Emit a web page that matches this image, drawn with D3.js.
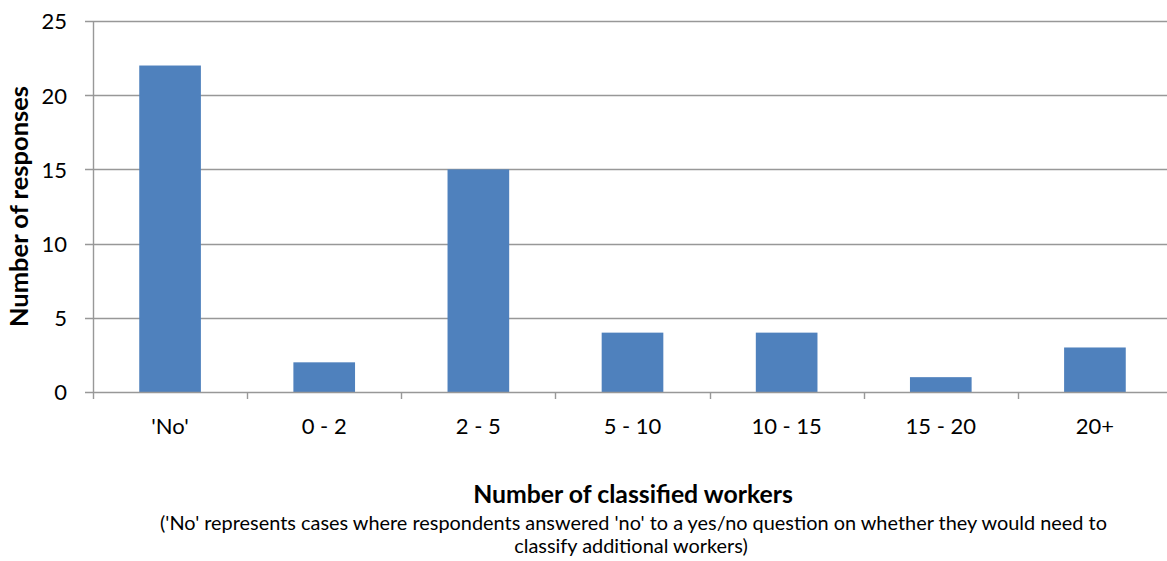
<!DOCTYPE html>
<html><head><meta charset="utf-8">
<script src="https://cdn.jsdelivr.net/npm/d3@7"></script>
<style>body{margin:0;background:#fff}svg{display:block}text{font-family:Lato,"Open Sans",sans-serif;fill:#000}</style>
</head><body><svg id="c" width="1167" height="561"></svg>
<script>
const categories = ["'No'", "0 - 2", "2 - 5", "5 - 10", "10 - 15", "15 - 20", "20+"];
const responses = [22, 2, 15, 4, 4, 1, 3];
const yTicks = [0, 5, 10, 15, 20, 25];
const xTitle = "Number of classified workers";
const yTitle = "Number of responses";
const noteLines = ["('No' represents cases where respondents answered 'no' to a yes/no question on whether they would need to", "classify additional workers)"];

const svg = d3.select("#c");
const L = 93, R = 1172, T = 21, B = 392;
const x = d3.scaleBand().domain(categories).range([L, R]).paddingInner(0.6).paddingOuter(0.3);
const xEdge = d3.scaleLinear().domain([0, categories.length]).range([L, R]);
const y = d3.scaleLinear().domain([0, 25]).range([B, T]);

// gridlines
svg.append("g").selectAll("line").data(yTicks.filter(d => d > 0)).join("line")
  .attr("x1", L - 8).attr("x2", R).attr("y1", d => Math.round(y(d)) + 0.5).attr("y2", d => Math.round(y(d)) + 0.5)
  .attr("stroke", "#989898").attr("stroke-width", 1.4);

// bars
svg.append("g").selectAll("rect").data(responses).join("rect")
  .attr("x", (d, i) => x(categories[i])).attr("width", x.bandwidth())
  .attr("y", d => y(d)).attr("height", d => B - y(d)).attr("fill", "#4F81BD");

// axes lines
const ax = svg.append("g").attr("stroke", "#989898").attr("stroke-width", 1.4);
ax.append("line").attr("x1", L + 0.5).attr("x2", L + 0.5).attr("y1", T).attr("y2", B + 7);
ax.append("line").attr("x1", L - 8).attr("x2", R).attr("y1", B + 0.5).attr("y2", B + 0.5);
ax.selectAll(".xt").data(d3.range(1, categories.length + 1)).join("line")
  .attr("x1", d => Math.round(xEdge(d)) + 0.5).attr("x2", d => Math.round(xEdge(d)) + 0.5)
  .attr("y1", B).attr("y2", B + 7);

// y tick labels
svg.append("g").selectAll("text").data(yTicks).join("text")
  .attr("x", 67).attr("y", d => y(d) + 8.3).attr("text-anchor", "end")
  .attr("font-size", 22).text(d => d);

// x tick labels
svg.append("g").selectAll("text").data(categories).join("text")
  .attr("x", d => x(d) + x.bandwidth() / 2).attr("y", 434).attr("text-anchor", "middle")
  .attr("font-size", 22).text(d => d);

// y title
svg.append("text").attr("transform", `translate(28,${(T + B) / 2}) rotate(-90)`)
  .attr("text-anchor", "middle").attr("font-weight", "bold").attr("font-size", 25.5).text(yTitle);

// x title
svg.append("text").attr("x", 633).attr("y", 503).attr("text-anchor", "middle")
  .attr("font-weight", "bold").attr("font-size", 24.8).text(xTitle);
svg.append("g").selectAll("text").data(noteLines).join("text")
  .attr("x", (d, i) => i === 0 ? 633.5 : 631).attr("y", (d, i) => 530 + i * 22.5)
  .attr("text-anchor", "middle").attr("font-size", 19.9).text(d => d);
</script></body></html>
